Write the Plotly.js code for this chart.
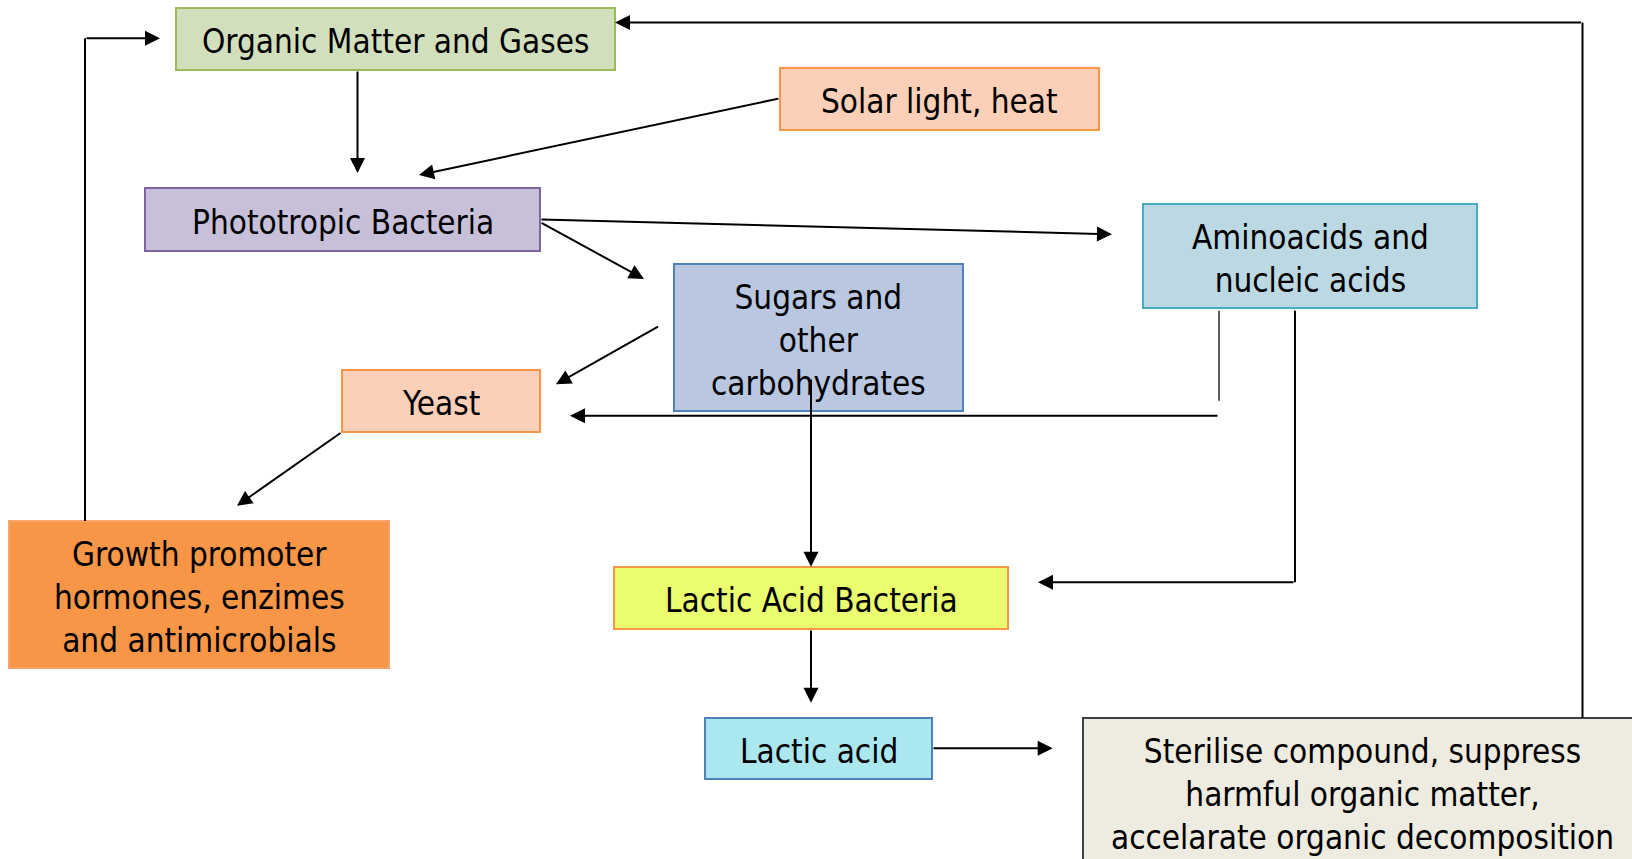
<!DOCTYPE html>
<html>
<head>
<meta charset="utf-8">
<script src="https://cdn.plot.ly/plotly-3.0.1.min.js"></script>
<style>html,body{margin:0;padding:0;background:#fff;}#chart{width:1632px;height:859px;}</style>
</head>
<body>
<div id="chart"></div>
<script>
// ---- Diagram content ----
const nodeIds = ["organic", "solar", "photo", "amino", "sugars", "yeast", "growth", "lab", "lactic", "sterilise"];
const nodeLabels = [
  "Organic Matter and Gases",
  "Solar light, heat",
  "Phototropic Bacteria",
  "Aminoacids and<br>nucleic acids",
  "Sugars and<br>other<br>carbohydrates",
  "Yeast",
  "Growth promoter<br>hormones, enzimes<br>and antimicrobials",
  "Lactic Acid Bacteria",
  "Lactic acid",
  "Sterilise compound, suppress<br>harmful organic matter,<br>accelarate organic decomposition"
];
const edgeFrom = ["organic", "solar", "photo", "photo", "sugars", "amino", "yeast", "growth", "sugars", "amino", "lab", "lactic", "sterilise"];
const edgeTo   = ["photo", "photo", "amino", "sugars", "yeast", "yeast", "growth", "organic", "lab", "lab", "lactic", "sterilise", "organic"];

// ---- Layout / style (pixel geometry of the drawing) ----
const boxStyle = {
  organic:   {x0:176, y0:8,   x1:615,  y1:70,  fill:"#d2dfbd", line:"#9bbb59", ty:41.5},
  solar:     {x0:780, y0:68,  x1:1099, y1:130, fill:"#fbcfb8", line:"#f79646", ty:101.5},
  photo:     {x0:145, y0:188, x1:540,  y1:251, fill:"#c8c0d9", line:"#8064a2", ty:222},
  amino:     {x0:1143,y0:204, x1:1477, y1:308, fill:"#bcd8e2", line:"#4bacc6", ty:258.5},
  sugars:    {x0:674, y0:264, x1:963,  y1:411, fill:"#b9c7e1", line:"#4f81bd", ty:340},
  yeast:     {x0:342, y0:370, x1:540,  y1:432, fill:"#fbcfb8", line:"#f79646", ty:403.5},
  growth:    {x0:9,   y0:521, x1:389,  y1:668, fill:"#f79646", line:"#f8a36a", ty:597.5},
  lab:       {x0:614, y0:567, x1:1008, y1:629, fill:"#e9fd6f", line:"#f79646", ty:600.5},
  lactic:    {x0:705, y0:718, x1:932,  y1:779, fill:"#abe7ef", line:"#4f81bd", ty:751},
  sterilise: {x0:1083,y0:718, x1:1641, y1:880, fill:"#eeebe1", line:"#404040", ty:794, tx:1362}
};
// connector routes: list of points, last segment carries the arrowhead
const routes = [
  [[357.5,70],[357.5,173]],
  [[780,98.3],[419,175]],
  [[540,219.5],[1112,234.3]],
  [[540,222],[644,279]],
  [[659.5,325.7],[556,384.3]],
  [[1219,310.7],[1219,400.7],null,[1219,415.7],[570,415.7]],
  [[342,432],[237,505.7]],
  [[85,521],[85,38.3],[160,38.3]],
  [[811,378],[811,566.7]],
  [[1295,310.7],[1295,582.3],[1038,582.3]],
  [[811,629],[811,702.7]],
  [[932,748.3],[1052.7,748.3]],
  [[1582.5,718],[1582.5,22.5],[615,22.5]]
];

const FONT = {family:"'DejaVu Sans Condensed', 'DejaVu Sans', sans-serif", size:33, color:"#000"};

const shapes = [];
const annotations = [];

nodeIds.forEach((id, i) => {
  const b = boxStyle[id];
  shapes.push({type:"rect", xref:"x", yref:"y", x0:b.x0, y0:b.y0, x1:b.x1, y1:b.y1,
    fillcolor:b.fill, line:{color:b.line, width:2}, layer:"above"});
  annotations.push({xref:"x", yref:"y", x: b.tx !== undefined ? b.tx : (b.x0+b.x1)/2, y:b.ty,
    text:nodeLabels[i], showarrow:false, font:FONT, align:"center", xanchor:"center", yanchor:"middle"});
});

routes.forEach((pts, k) => {
  const segs = [];
  let cur = [];
  pts.forEach(p => { if (p === null) { segs.push(cur); cur = []; } else cur.push(p); });
  segs.push(cur);
  segs.forEach((seg, si) => {
    const isLast = si === segs.length - 1;
    const n = seg.length;
    const lineCount = isLast ? n - 2 : n - 1;
    for (let j = 0; j < lineCount; j++) {
      shapes.push({type:"line", xref:"x", yref:"y", x0:seg[j][0], y0:seg[j][1], x1:seg[j+1][0], y1:seg[j+1][1],
        line:{color: (k===5 && si===0) ? "#333" : "#000", width: (k===5 && si===0) ? 1.6 : 2}, layer:"above"});
    }
    if (isLast) {
      const tail = seg[n-2], tip = seg[n-1];
      annotations.push({xref:"x", yref:"y", axref:"x", ayref:"y", x:tip[0], y:tip[1], ax:tail[0], ay:tail[1],
        text:"", showarrow:true, arrowhead:2, arrowsize:1.5, arrowwidth:2, arrowcolor:"#000", standoff:0});
    }
  });
});

const layout = {
  width:1632, height:859,
  margin:{l:0, r:0, t:0, b:0, pad:0},
  paper_bgcolor:"#ffffff", plot_bgcolor:"#ffffff",
  showlegend:false,
  xaxis:{range:[0,1632], visible:false, fixedrange:true},
  yaxis:{range:[859,0], visible:false, fixedrange:true},
  shapes:shapes,
  annotations:annotations
};

Plotly.newPlot("chart", [{type:"scatter", x:[], y:[], hoverinfo:"skip"}], layout, {staticPlot:true, displayModeBar:false});
</script>
</body>
</html>
